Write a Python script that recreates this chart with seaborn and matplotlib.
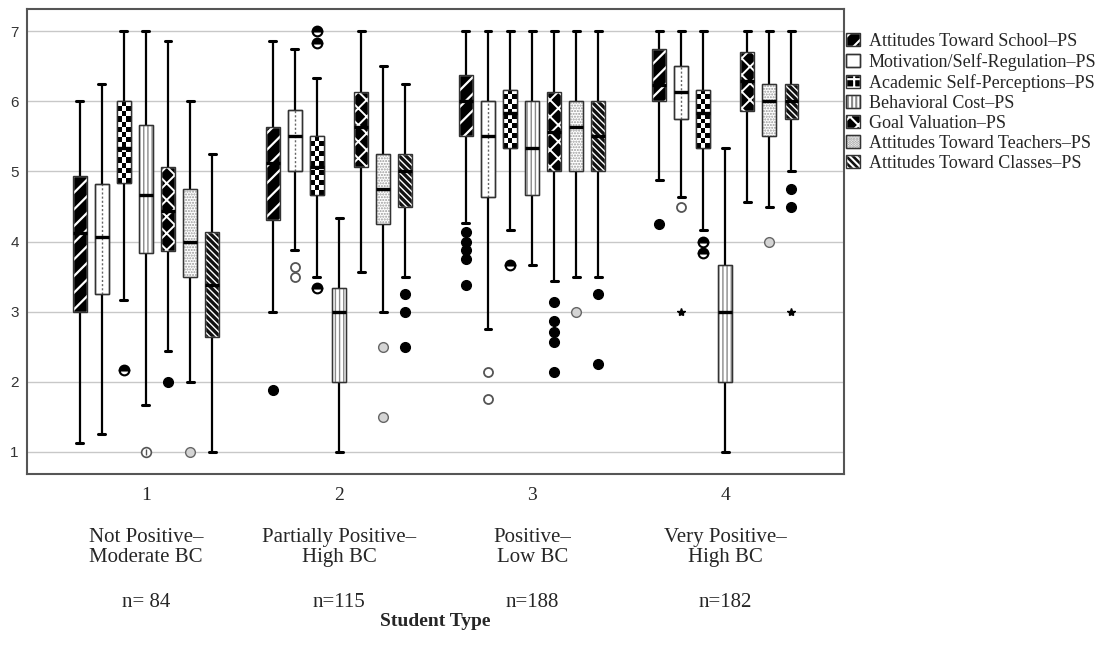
import numpy as np
import pandas as pd
import seaborn as sns
import matplotlib.pyplot as plt
from matplotlib.patches import Patch, PathPatch

# groups on the x axis
groups = ["1", "2", "3", "4"]
type_top = ["Not Positive–", "Partially Positive–", "Positive–", "Very Positive–"]
type_bottom = ["Moderate BC", "High BC", "Low BC", "High BC"]
n_labels = ["n= 84", "n=115", "n=188", "n=182"]

series = ["Attitudes Toward School–PS", "Motivation/Self-Regulation–PS",
          "Academic Self-Perceptions–PS", "Behavioral Cost–PS",
          "Goal Valuation–PS", "Attitudes Toward Teachers–PS",
          "Attitudes Toward Classes–PS"]

# box summaries per group: lower whisker, Q1, median, Q3, upper whisker
school = [[1.13, 3.00, 4.12, 4.94, 6.00], [3.00, 4.31, 5.12, 5.63, 6.87],
          [4.26, 5.50, 6.00, 6.38, 7.00], [4.88, 6.00, 6.24, 6.75, 7.00]]
motivation = [[1.25, 3.25, 4.06, 4.82, 6.25], [3.88, 5.00, 5.50, 5.88, 6.75],
              [2.75, 4.63, 5.50, 6.00, 7.00], [4.63, 5.75, 6.13, 6.50, 7.00]]
academic = [[3.17, 4.83, 5.33, 6.00, 7.00], [3.50, 4.67, 5.07, 5.50, 6.33],
            [4.17, 5.33, 5.83, 6.17, 7.00], [4.17, 5.33, 5.83, 6.17, 7.00]]
behavioral = [[1.67, 3.83, 4.67, 5.67, 7.00], [1.00, 2.00, 3.00, 3.33, 4.33],
              [3.67, 4.67, 5.33, 6.00, 7.00], [1.00, 2.00, 3.00, 3.67, 5.33]]
goal = [[2.43, 3.86, 4.43, 5.07, 6.86], [3.57, 5.07, 5.64, 6.14, 7.00],
        [3.43, 5.00, 5.57, 6.14, 7.00], [4.57, 5.86, 6.29, 6.71, 7.00]]
teachers = [[2.00, 3.50, 4.00, 4.75, 6.00], [3.00, 4.25, 4.75, 5.25, 6.50],
            [3.50, 5.00, 5.63, 6.00, 7.00], [4.50, 5.50, 6.00, 6.25, 7.00]]
classes = [[1.00, 2.63, 3.38, 4.13, 5.25], [3.50, 4.50, 5.00, 5.25, 6.25],
           [3.50, 5.00, 5.50, 6.00, 7.00], [5.00, 5.75, 6.00, 6.25, 7.00]]

# outliers (circles) per group
school_out = [[], [1.88], [4.13, 4.00, 3.88, 3.75, 3.38], [4.25]]
motivation_out = [[], [3.63, 3.50], [2.13, 1.75], [4.50]]
academic_out = [[2.17], [7.00, 6.83, 3.33], [3.67], [4.00, 3.83]]
behavioral_out = [[1.00], [], [], []]
goal_out = [[2.00], [], [3.14, 2.86, 2.71, 2.57, 2.14], []]
teachers_out = [[1.00], [2.50, 1.50], [3.00], [4.00]]
classes_out = [[], [3.25, 3.00, 2.50], [3.25, 2.25], [4.75, 4.50]]
# extremes (stars)
motivation_ext = [[], [], [], [3.00]]
classes_ext = [[], [], [], [3.00]]

all_stats = [school, motivation, academic, behavioral, goal, teachers, classes]
all_out = [school_out, motivation_out, academic_out, behavioral_out,
           goal_out, teachers_out, classes_out]

rows = []
for s, stats in zip(series, all_stats):
    for g, vals in zip(groups, stats):
        for v in vals:
            rows.append((g, s, v))
df = pd.DataFrame(rows, columns=["group", "scale", "score"])

sns.set_theme(style="white")
plt.rcParams["font.family"] = ["Liberation Serif", "DejaVu Serif"]
plt.rcParams["hatch.linewidth"] = 1.5

fig = plt.figure(figsize=(11.01, 6.54), dpi=100)
ax = fig.add_axes([0.0245, 0.2752, 0.7421, 0.7110])

W = 0.8
sns.boxplot(data=df, x="group", y="score", hue="scale", order=groups,
            hue_order=series, palette=["white"] * 7, width=W, gap=0.37,
            whis=(0, 100), linecolor="#333333", linewidth=1, legend=False,
            medianprops=dict(color="black", linewidth=2.4, zorder=4),
            whiskerprops=dict(color="black", linewidth=1.6),
            capprops=dict(color="black", linewidth=2.2), ax=ax)

slot = W / len(series)
# (face, hatch, hatch colour)
styles = [("black", "//", "white"), ("white", None, None), (None, None, None),
          ("white", "||||", "#8a8a8a"), ("black", "xx", "white"),
          ("white", "......", "#9a9a9a"), ("#111111", "\\\\\\\\\\", "white")]

for p in list(ax.patches):
    ext = p.get_path().get_extents()
    cx = (ext.x0 + ext.x1) / 2
    g = int(round(cx))
    k = int(round((cx - g) / slot + 3))
    face, hatch, hc = styles[k]
    z = p.get_zorder()
    if k == 2:
        nrow = max(1, int(round((ext.y1 - ext.y0) / 0.072)))
        checker = np.add.outer(np.arange(nrow), np.arange(3)) % 2
        im = ax.imshow(checker, cmap="gray", vmin=0, vmax=1, origin="lower",
                       extent=(ext.x0, ext.x1, ext.y0, ext.y1), aspect="auto",
                       interpolation="nearest", zorder=z + 0.01)
        im.set_clip_path(p)
    else:
        p.set_facecolor(face)
        if hatch:
            p.set_edgecolor(hc)
            p.set_hatch(hatch)
            if hasattr(p, "set_hatch_linewidth"):
                p.set_hatch_linewidth({0: 1.6, 4: 1.4, 6: 1.0}.get(k, 1.0))
    if k == 1:
        ax.plot([cx, cx], [ext.y0, ext.y1], color="#666666", lw=1,
                ls=(0, (1.5, 1.5)), zorder=z + 0.01)
    ax.add_patch(PathPatch(p.get_path(), fill=False, edgecolor="#333333",
                           lw=1, zorder=z + 0.02))

# outliers
out_styles = [dict(marker="o", ms=7, mfc="black", mec="black"),
              dict(marker="o", ms=6.5, mfc="white", mec="#555555", mew=1.3),
              dict(marker="o", ms=7, fillstyle="top", mfc="black",
                   mfcalt="white", mec="black", mew=1.5),
              dict(marker="o", ms=7, mfc="white", mec="#555555", mew=1.2),
              dict(marker="o", ms=7, mfc="black", mec="black"),
              dict(marker="o", ms=7, mfc="#d4d4d4", mec="#666666", mew=1),
              dict(marker="o", ms=7, mfc="black", mec="black")]
for k, outs in enumerate(all_out):
    for g, vals in enumerate(outs):
        if vals:
            xs = [g + (k - 3) * slot] * len(vals)
            ax.plot(xs, vals, ls="none", zorder=5, **out_styles[k])
            if k == 3:
                ax.plot(xs, vals, ls="none", marker="|", ms=4, color="#555555",
                        zorder=6)
for k, exts in [(1, motivation_ext), (6, classes_ext)]:
    for g, vals in enumerate(exts):
        if vals:
            ax.plot([g + (k - 3) * slot] * len(vals), vals, ls="none",
                    marker="*", ms=6, color="black", zorder=5)

ax.set_xlim(-0.616, 3.615)
ax.set_ylim(0.68, 7.32)
ax.set_yticks(range(1, 8))
ax.set_axisbelow(True)
ax.yaxis.grid(True, color="#c8c8c8", lw=1)
ax.xaxis.grid(False)
for sp in ax.spines.values():
    sp.set_color("#555555")
    sp.set_linewidth(1.5)
ax.tick_params(axis="both", length=0)
ax.tick_params(axis="x", labelsize=14, pad=9)
ax.tick_params(axis="y", labelsize=11, pad=6, labelcolor="#333333")
for t in ax.get_yticklabels():
    t.set_family("Liberation Sans")
ax.set_ylabel("")

for g in range(len(groups)):
    for txt, off in [(type_top[g], 63), (type_bottom[g], 83), (n_labels[g], 128)]:
        ax.annotate(txt, xy=(g, 0), xycoords=("data", "axes fraction"),
                    xytext=(0, -off * 0.72), textcoords="offset points",
                    ha="center", va="center", fontsize=15)

ax.set_xlabel("Student Type", fontsize=14, fontweight="bold")
ax.xaxis.set_label_coords(0.5, -0.318)
ax.xaxis.label.set_va("center")

handles = []
for k, (face, hatch, hc) in enumerate(styles):
    if k == 2:
        face, hatch, hc = "black", "++", "white"
    base = Patch(facecolor=face, edgecolor=hc if hatch else "#333333",
                 hatch=hatch)
    handles.append((base, Patch(fill=False, edgecolor="#333333", lw=1)))
fig.legend(handles, series, loc="upper left",
           bbox_to_anchor=(846 / 1101, 1 - 33 / 654), frameon=False,
           fontsize=13, borderpad=0, borderaxespad=0, labelspacing=0.17,
           handlelength=0.75, handleheight=0.75, handletextpad=0.5)

fig.savefig("out.png", dpi=100)
